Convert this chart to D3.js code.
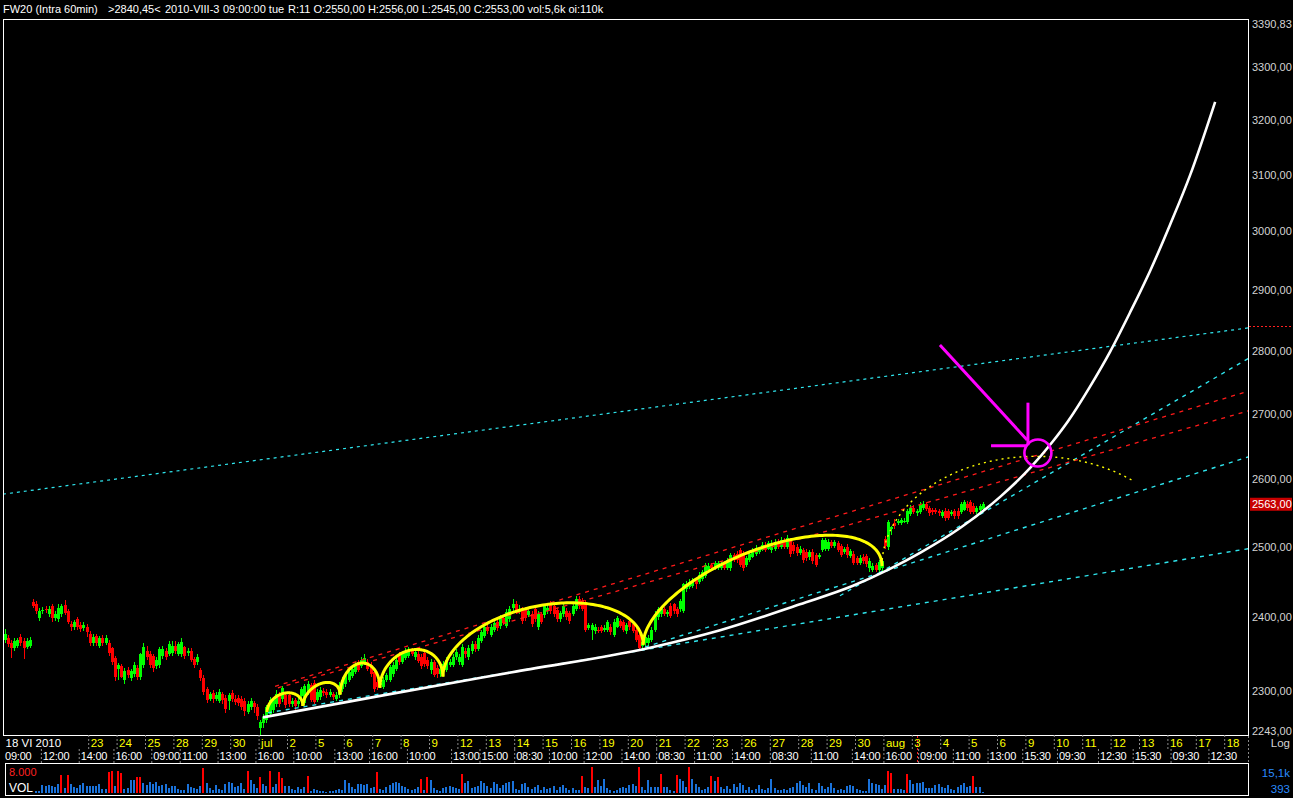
<!DOCTYPE html>
<html><head><meta charset="utf-8">
<script src="https://cdn.jsdelivr.net/npm/d3@7"></script>
<style>
html,body{margin:0;padding:0;background:#000;}
svg{display:block;}
</style></head><body>
<svg id="c" width="1293" height="798"></svg>
<script>
// ---------------- DATA ----------------
const headerTexts = ["FW20 (Intra 60min)", ">2840,45<", "2010-VIII-3", "09:00:00 tue",
  "R:11 O:2550,00 H:2556,00 L:2545,00 C:2553,00 vol:5,6k oi:110k"];

// hourly candles, 9 bars per trading day (18 VI 2010 .. 5 VIII 2010)
const open = [
2370,2372,2366,2358,2362,2374,2368,2360,2362,
2422,2419,2400,2410,2413,2405,2416,2400,2398,
2405,2418,2410,2392,2387,2398,2390,2386,2388,
2378,2365,2375,2362,2372,2366,2366,2358,2345,
2330,2334,2316,2329,2318,2323,2332,2320,2335,
2355,2351,2348,2334,2335,2348,2354,2351,2352,
2362,2351,2350,2360,2352,2354,2344,2339,2329,
2318,2303,2290,2298,2290,2288,2297,2292,2288,
2298,2290,2292,2290,2288,2273,2279,2285,2280,
2252,2258,2262,2271,2275,2283,2296,2290,2295,
2296,2283,2289,2284,2294,2285,2299,2309,2311,
2289,2293,2301,2300,2296,2297,2290,2295,2303,
2310,2316,2321,2326,2340,2334,2338,2340,2336,
2326,2313,2309,2306,2316,2316,2323,2330,2350,
2340,2345,2348,2355,2346,2350,2346,2352,2343,
2329,2340,2332,2323,2329,2329,2336,2336,2346,
2340,2336,2355,2346,2355,2364,2357,2368,2375,
2387,2377,2384,2395,2389,2400,2389,2398,2414,
2419,2408,2412,2412,2404,2406,2412,2388,2405,
2404,2410,2419,2417,2411,2398,2405,2410,2407,
2406,2412,2426,2424,2421,2386,2383,2382,2384,
2387,2384,2384,2388,2377,2388,2396,2394,2382,
2396,2391,2384,2377,2362,2366,2366,2370,2384,
2401,2405,2412,2405,2417,2419,2412,2412,2410,
2440,2443,2445,2453,2450,2455,2459,2468,2475,
2470,2471,2470,2477,2471,2470,2489,2491,2496,
2491,2475,2482,2486,2491,2493,2496,2504,2498,
2496,2498,2508,2501,2511,2501,2511,2504,2501,
2492,2496,2493,2486,2493,2489,2486,2496,2498,
2497,2508,2502,2506,2502,2493,2501,2487,2491,
2484,2477,2486,2487,2470,2468,2475,2468,2470,
2512,2500,2526,2536,2535,2536,2538,2537,2549,
2558,2550,2552,2558,2564,2557,2555,2555,2553,
2546,2553,2553,2548,2553,2553,2552,2555,2564,
2566,2561,2551,2554,2556];
const high = [
2385,2376,2370,2372,2373,2378,2372,2372,2374,
2427,2424,2414,2415,2416,2416,2419,2410,2420,
2420,2425,2412,2396,2397,2401,2394,2394,2391,
2382,2378,2378,2375,2376,2376,2369,2360,2348,
2338,2337,2331,2333,2330,2339,2335,2352,2366,
2362,2355,2351,2346,2360,2362,2358,2368,2368,
2368,2367,2372,2362,2359,2358,2347,2350,2332,
2322,2306,2300,2302,2299,2303,2300,2295,2298,
2302,2295,2296,2294,2292,2287,2292,2288,2284,
2263,2270,2282,2293,2292,2302,2299,2308,2299,
2300,2292,2292,2292,2306,2310,2314,2312,2316,
2303,2306,2305,2303,2303,2300,2300,2313,2320,
2326,2330,2334,2340,2343,2346,2350,2344,2339,
2329,2316,2313,2319,2325,2336,2339,2346,2353,
2354,2358,2360,2358,2357,2354,2350,2355,2347,
2344,2343,2336,2334,2341,2347,2344,2350,2357,
2351,2364,2359,2363,2368,2368,2376,2384,2390,
2391,2391,2397,2399,2404,2403,2412,2416,2426,
2423,2418,2415,2415,2414,2409,2416,2409,2408,
2420,2418,2424,2421,2414,2410,2421,2414,2410,
2421,2430,2430,2428,2425,2393,2393,2391,2387,
2390,2390,2397,2391,2398,2403,2399,2397,2393,
2399,2394,2387,2380,2370,2377,2376,2387,2409,
2415,2416,2415,2411,2421,2421,2415,2427,2449,
2452,2455,2456,2456,2464,2467,2478,2477,2478,
2480,2481,2479,2481,2485,2492,2492,2495,2499,
2494,2488,2494,2499,2503,2500,2508,2507,2509,
2510,2512,2512,2515,2514,2518,2514,2507,2505,
2502,2499,2497,2496,2497,2492,2492,2514,2514,
2512,2511,2511,2509,2505,2500,2505,2497,2494,
2487,2489,2490,2490,2484,2477,2478,2482,2484,
2516,2540,2531,2541,2541,2543,2542,2556,2562,
2562,2556,2567,2568,2567,2560,2558,2558,2556,
2555,2557,2556,2555,2556,2557,2566,2570,2568,
2569,2565,2560,2563,2566];
const low = [
2366,2360,2345,2355,2359,2362,2344,2357,2358,
2414,2406,2396,2405,2407,2401,2394,2396,2395,
2401,2404,2391,2382,2384,2383,2380,2382,2374,
2362,2362,2362,2358,2362,2363,2348,2336,2314,
2316,2318,2310,2318,2314,2320,2316,2316,2332,
2343,2332,2326,2330,2332,2344,2343,2348,2348,
2350,2348,2346,2344,2348,2340,2332,2336,2314,
2296,2285,2287,2285,2287,2285,2284,2272,2275,
2286,2282,2281,2275,2268,2270,2275,2272,2262,
2243,2252,2259,2268,2272,2280,2280,2286,2278,
2279,2280,2276,2280,2291,2282,2296,2286,2283,
2286,2289,2294,2291,2293,2289,2287,2292,2300,
2306,2313,2318,2323,2326,2331,2335,2327,2320,
2300,2302,2305,2303,2313,2313,2320,2327,2336,
2337,2342,2345,2348,2343,2338,2330,2333,2330,
2323,2319,2318,2319,2326,2326,2333,2333,2342,
2336,2333,2345,2343,2351,2353,2354,2365,2372,
2378,2374,2381,2382,2385,2390,2386,2395,2410,
2406,2405,2392,2396,2401,2388,2395,2384,2392,
2400,2406,2406,2401,2394,2394,2402,2397,2392,
2403,2409,2413,2409,2380,2383,2369,2378,2379,
2379,2380,2380,2376,2374,2386,2386,2380,2378,
2384,2379,2367,2354,2356,2362,2362,2367,2381,
2397,2402,2403,2402,2400,2405,2401,2408,2407,
2436,2440,2442,2441,2447,2452,2456,2465,2466,
2467,2468,2467,2467,2468,2466,2479,2478,2472,
2466,2472,2479,2484,2488,2490,2494,2493,2496,
2492,2495,2497,2498,2497,2498,2486,2490,2488,
2489,2478,2480,2482,2476,2472,2483,2493,2495,
2494,2499,2499,2493,2486,2490,2485,2484,2475,
2474,2474,2476,2472,2465,2464,2464,2465,2466,
2497,2496,2518,2527,2532,2533,2535,2534,2546,
2548,2545,2549,2555,2553,2546,2547,2549,2546,
2543,2539,2540,2545,2541,2541,2549,2553,2553,
2549,2548,2549,2552,2555];
const close = [
2378,2364,2358,2368,2369,2366,2358,2368,2370,
2417,2410,2410,2411,2411,2412,2400,2406,2414,
2416,2407,2395,2388,2394,2388,2385,2390,2380,
2366,2374,2366,2372,2366,2372,2352,2340,2320,
2336,2320,2328,2322,2327,2336,2320,2350,2360,
2347,2336,2331,2343,2357,2357,2347,2364,2362,
2355,2364,2367,2348,2355,2343,2336,2346,2318,
2300,2289,2297,2290,2295,2300,2289,2277,2295,
2290,2286,2285,2280,2274,2283,2288,2279,2268,
2260,2267,2279,2289,2289,2297,2284,2305,2282,
2283,2288,2281,2288,2303,2307,2310,2289,2286,
2300,2302,2298,2295,2299,2293,2296,2309,2316,
2323,2326,2330,2336,2329,2342,2345,2330,2323,
2303,2306,2311,2316,2322,2333,2336,2343,2340,
2351,2354,2356,2351,2353,2341,2334,2337,2334,
2340,2322,2323,2330,2337,2343,2340,2346,2353,
2347,2360,2350,2359,2364,2357,2373,2381,2387,
2382,2388,2393,2386,2401,2393,2408,2412,2420,
2410,2413,2396,2400,2410,2392,2399,2405,2395,
2416,2414,2410,2405,2398,2407,2417,2401,2396,
2417,2426,2417,2413,2384,2390,2390,2387,2382,
2382,2386,2394,2380,2395,2400,2389,2384,2390,
2387,2382,2370,2359,2367,2374,2373,2384,2406,
2412,2412,2406,2408,2403,2409,2405,2423,2447,
2447,2451,2452,2447,2461,2464,2475,2473,2470,
2477,2478,2476,2471,2482,2489,2482,2482,2475,
2470,2485,2491,2496,2499,2497,2504,2496,2506,
2506,2508,2501,2511,2500,2514,2490,2494,2492,
2498,2482,2484,2493,2480,2475,2489,2511,2510,
2508,2502,2508,2496,2489,2497,2489,2494,2478,
2477,2485,2480,2476,2480,2473,2468,2479,2480,
2502,2537,2529,2531,2538,2540,2539,2553,2558,
2552,2553,2562,2564,2556,2550,2551,2552,2550,
2551,2542,2543,2552,2545,2545,2563,2566,2557,
2552,2551,2557,2560,2563];
const volume = [
3200,2100,1800,1500,2400,1900,1600,2200,2800,
1200,1100,1000,4600,4100,4500,3900,3400,5200,
10450,2900,10400,5100,3600,3000,4700,5600,4200,
3800,4300,4200,5300,2400,2500,12200,12800,3900,
12700,11600,2100,3000,7400,7600,9300,9200,5800,
4800,6300,5400,6200,4100,4700,5000,3000,4200,
3800,2400,1800,1900,5500,3600,3100,2600,4300,
14500,6000,3000,1900,4400,2600,1500,5100,6300,
5600,3200,3900,5800,2600,12800,7300,5200,3100,
9300,5400,4300,12800,3500,5000,12200,8700,3900,
4300,2400,1800,3600,2600,3200,9900,1400,2500,
1900,1300,1100,800,900,1200,1600,2200,1900,
7600,5700,3500,2400,5100,5300,4800,5200,3000,
3400,12200,2500,1900,3600,4800,6000,6500,5800,
4100,3500,2400,1800,2400,3600,8300,2000,9300,
7300,2900,1700,1400,3000,3600,4200,3500,2900,
2500,11000,6000,6800,3000,3600,4100,7000,5900,
4200,3000,6400,5300,3000,4600,5800,6500,7100,
2400,1800,5400,5900,3700,2400,3500,4800,2000,
3600,2400,3000,4200,1800,3500,4600,3000,2000,
3000,1900,2000,9900,3200,2800,15000,3600,7600,
4000,7900,3000,1800,1200,1600,2800,3500,3000,
4600,5100,3800,15100,3400,1700,7800,3500,3600,
3500,11000,3500,3400,1800,1200,10500,7900,6800,
3500,15000,7900,5300,3500,1800,2300,3600,9900,
6900,9300,3500,2300,4000,2400,5300,3500,5800,
4700,1800,3500,1900,2300,4600,2400,1700,3000,
7900,2900,1800,1800,2400,1900,3000,3500,5800,
6800,4600,3500,5800,2400,1800,5900,4200,2400,
3500,5900,3000,1800,2300,1900,4100,4800,4200,
2300,1800,1200,1200,7900,5800,5300,4700,2400,
4600,12800,11600,2300,2400,2300,1800,11000,7500,
5300,5600,5900,6300,3000,2900,3000,4700,5300,
3600,3000,4700,2400,1800,3500,4600,5800,3500,
4100,9900,3500,3600,600];
const volThreshold = 8000;
const volMin = 393, volMax = 15100;

// price axis
const priceMin = 2243, priceMax = 3390.83;
const priceTicks = [3390.83,3300,3200,3100,3000,2900,2800,2700,2600,2500,2400,2300,2243];
const lastPrice = 2563;
const markerPrice = 2840.45;

// date axis (x in trading days from 18 VI 2010; 9 bars per day)
const dayTickDays = [0,3,4,5,6,7,8,9,10,11,12,13,14,15,16,17,18,19,20,21,22,23,24,25,26,27,28,29,30,31,32,33,34,35,36,37,38,39,40,41,42,43];
const dayTickLabels = ["18 VI 2010","23","24","25","28","29","30","jul","2","5","6","7","8","9","12","13","14","15","16","19","20","21","22","23","26","27","28","29","30","aug","3","4","5","6","9","10","11","12","13","16","17","18"];
const timeTickBars = [0,12,24,35,47,56,68,80,92,105,116,128,142,151,162,173,184,196,207,219,231,243,256,269,279,290,301,312,323,334,347,358,370,382];
const timeTickLabels = ["09:00","12:00","14:00","16:00","09:00","11:00","13:00","16:00","10:00","13:00","16:00","10:00","13:00","15:00","08:30","10:00","12:00","14:00","08:30","11:00","14:00","08:30","11:00","14:00","16:00","09:00","11:00","13:00","15:30","09:30","12:30","15:30","09:30","12:30"];
const cursorBar = 289;

// white curve (day, price)
const curveDay =   [9.15,13.38,18.10,22.78,25.25,28.06,29.93,31.23,32.29,33.70,35.11,36.16,36.97,37.50,38.27,38.98,39.68,40.39,41.09,41.80,42.68];
const curvePrice = [2266,2295,2327,2359,2383,2419,2445,2469,2492,2528,2574,2617,2658,2689,2743,2799,2863,2933,3012,3100,3234];

// straight trend lines (day, price) -> (day, price)
const cyanFromDay =   [0,    9.33, 22.61, 29.47];
const cyanFromPrice = [2578, 2272, 2360,  2431];
const cyanToDay =     [43.84,43.84,43.84, 43.84];
const cyanToPrice =   [2838, 2498, 2634,  2788];
const redFromDay =   [9.58, 9.68];
const redFromPrice = [2307, 2305];
const redToDay =     [43.84,43.84];
const redToPrice =   [2736, 2705];

// cycle arcs
const arcFromDay =   [9.30, 10.56, 11.87, 13.27, 15.49, 22.54];
const arcFromPrice = [2273, 2281,  2296,  2305,  2320,  2363];
const arcToDay =     [10.56,11.87, 13.27, 15.49, 22.54, 30.95];
const arcToPrice =   [2281, 2296,  2305,  2320,  2363,  2473];
const arcTopPrice =  [2298, 2311,  2338,  2356,  2418,  2500];
const projArc = [30.95, 2473, 41.80, 2473, 2635]; // fromDay, fromPrice, toDay, toPrice, topPrice
const projArcDrawnTo = 39.86;

// magenta annotation (day, price)
const ringCenter = [36.44, 2640];
const arrowFromDay =   [32.99, 36.09, 34.79];
const arrowFromPrice = [2810,  2718,  2651];
const arrowToDay =     [36.06, 36.09, 36.06];
const arrowToPrice =   [2660,  2652,  2651];

// ---------------- DRAWING ----------------
const W = 1293, H = 798;
const FONT = '"Liberation Sans", Arial, sans-serif';
const P = {l:3, r:1248, t:19, b:735};
const DAYW = 28.4;
const svg = d3.select('#c');
svg.append('rect').attr('width', W).attr('height', H).attr('fill', '#000');

const xDay = d3.scaleLinear().domain([0, 44]).range([P.l, P.l + 44 * DAYW]);
const xBar = d3.scaleLinear().domain([0, 44 * 9]).range([P.l, P.l + 44 * DAYW]);
const y = d3.scaleLog().domain([priceMin, priceMax]).range([P.b, 20]);
const yv = d3.scaleLinear().domain([0, volMax]).range([793, 767]);

svg.append('clipPath').attr('id', 'clip').append('rect')
  .attr('x', P.l).attr('y', P.t).attr('width', P.r - P.l).attr('height', P.b - P.t);
const main = svg.append('g').attr('clip-path', 'url(#clip)');

// header
const headerX = [3, 108, 165, 223, 288];
svg.append('g').selectAll('text').data(headerTexts).join('text')
  .attr('x', (d, i) => headerX[i]).attr('y', 13)
  .attr('fill', '#fff').attr('font-family', FONT).attr('font-size', 11).text(d => d);

// candles
const bars = d3.range(open.length);
const cx = i => Math.round(xBar(i + 0.5));
const cg = main.append('g').attr('shape-rendering', 'crispEdges');
cg.selectAll('rect.w').data(bars).join('rect').attr('class', 'w')
  .attr('x', i => cx(i)).attr('width', 1)
  .attr('y', i => Math.round(y(high[i]))).attr('height', i => Math.max(1, Math.round(y(low[i])) - Math.round(y(high[i]))))
  .attr('fill', i => close[i] >= open[i] ? '#00ff00' : '#ff0000');
cg.selectAll('rect.b').data(bars).join('rect').attr('class', 'b')
  .attr('x', i => cx(i) - 1).attr('width', 3)
  .attr('y', i => Math.round(y(Math.max(open[i], close[i]))))
  .attr('height', i => Math.max(1, Math.round(y(Math.min(open[i], close[i]))) - Math.round(y(Math.max(open[i], close[i])))))
  .attr('fill', i => close[i] >= open[i] ? '#00ff00' : '#ff0000');

// trend lines
function seg(g, fd, fp, td, tp, color, dash, w) {
  g.append('g').selectAll('line').data(d3.range(fd.length)).join('line')
    .attr('x1', i => xDay(fd[i])).attr('y1', i => y(fp[i]))
    .attr('x2', i => xDay(td[i])).attr('y2', i => y(tp[i]))
    .attr('stroke', color).attr('stroke-width', w).attr('stroke-dasharray', dash);
}
seg(main, cyanFromDay.slice(0,1), cyanFromPrice.slice(0,1), cyanToDay.slice(0,1), cyanToPrice.slice(0,1), '#2fe6ee', '3,4', 1.2);
seg(main, cyanFromDay.slice(1), cyanFromPrice.slice(1), cyanToDay.slice(1), cyanToPrice.slice(1), '#2fe6ee', '4,5', 1.4);
seg(main, redFromDay, redFromPrice, redToDay, redToPrice, '#ff1a1a', '4,5', 1.3);

// arcs
function arcPts(d0, p0, d1, p1, top, stopDay) {
  const x0 = xDay(d0), x1 = xDay(d1), y0 = y(p0), y1 = y(p1);
  const h = (y0 + y1) / 2 - y(top);
  const xs = stopDay === undefined ? Infinity : xDay(stopDay);
  return d3.range(0, 121).map(k => {
    const t = Math.PI * k / 120, u = (1 - Math.cos(t)) / 2;
    return [x0 + (x1 - x0) * u, y0 + (y1 - y0) * u - h * Math.sin(t)];
  }).filter(p => p[0] <= xs);
}
const ln = d3.line();
main.append('g').selectAll('path').data(d3.range(arcFromDay.length)).join('path')
  .attr('d', i => ln(arcPts(arcFromDay[i], arcFromPrice[i], arcToDay[i], arcToPrice[i], arcTopPrice[i])))
  .attr('fill', 'none').attr('stroke', '#ffff00').attr('stroke-width', 3);
main.append('path').attr('d', ln(arcPts(...projArc, projArcDrawnTo)))
  .attr('fill', 'none').attr('stroke', '#ffff00').attr('stroke-width', 1.4).attr('stroke-dasharray', '2,4');

// white curve
main.append('path')
  .attr('d', d3.line().curve(d3.curveMonotoneX)(curveDay.map((d, i) => [xDay(d), y(curvePrice[i])])))
  .attr('fill', 'none').attr('stroke', '#ffffff').attr('stroke-width', 2.6);

// magenta
main.append('circle').attr('cx', xDay(ringCenter[0])).attr('cy', y(ringCenter[1])).attr('r', 13.5)
  .attr('fill', 'none').attr('stroke', '#ff00ff').attr('stroke-width', 2.6);
seg(main, arrowFromDay, arrowFromPrice, arrowToDay, arrowToPrice, '#ff00ff', null, 3);

// panel border
svg.append('rect').attr('x', P.l + 0.5).attr('y', P.t + 0.5).attr('width', P.r - P.l).attr('height', P.b - P.t)
  .attr('fill', 'none').attr('stroke', '#fff').attr('stroke-width', 1);

// right price axis
const fmt = v => d3.format('.2f')(v).replace('.', ',');
const ay = svg.append('g').attr('transform', `translate(${P.r},0)`)
  .call(d3.axisRight(y).tickValues(priceTicks).tickFormat(fmt).tickSize(0).tickPadding(4));
ay.select('.domain').remove();
ay.attr('font-family', FONT).attr('font-size', 11);
ay.selectAll('.tick').attr('transform', d => `translate(0,${Math.max(24, Math.min(731, y(d)))})`);
ay.selectAll('text').attr('fill', '#d4d4d4');

// marker line at 2840,45
svg.append('line').attr('x1', P.r + 1).attr('x2', W).attr('y1', Math.round(y(markerPrice)) + 0.5).attr('y2', Math.round(y(markerPrice)) + 0.5)
  .attr('stroke', '#ff2020').attr('stroke-dasharray', '2,2');
// last price box
const ly = y(lastPrice);
svg.append('rect').attr('x', 1250).attr('y', ly - 6.5).attr('width', 42).attr('height', 13).attr('fill', '#c80000');
svg.append('text').attr('x', 1252).attr('y', ly + 4).attr('fill', '#fff').attr('font-family', FONT).attr('font-size', 11).text(fmt(lastPrice));

// date axis rows
const ax1 = svg.append('g').attr('transform', `translate(0,${P.b})`)
  .call(d3.axisBottom(xDay).tickValues(dayTickDays).tickFormat((d, i) => dayTickLabels[i]).tickSize(14));
ax1.select('.domain').remove();
ax1.attr('font-family', FONT).attr('font-size', 11.5);
ax1.selectAll('line').attr('stroke', '#8a8a8a').attr('stroke-dasharray', '2,2').attr('opacity', d => d === 0 ? 0 : 1);
ax1.selectAll('text').attr('text-anchor', 'start').attr('x', 2).attr('y', 12).attr('dy', null)
  .attr('fill', d => d === 0 ? '#fff' : '#ffff00');

const ax2 = svg.append('g').attr('transform', `translate(0,${P.b + 14})`)
  .call(d3.axisBottom(xBar).tickValues(timeTickBars).tickFormat((d, i) => timeTickLabels[i]).tickSize(14));
ax2.select('.domain').remove();
ax2.attr('font-family', FONT).attr('font-size', 11).attr('letter-spacing', -0.2);
ax2.selectAll('line').attr('stroke', '#8a8a8a').attr('stroke-dasharray', '2,2').attr('opacity', d => d === 0 ? 0 : 1);
ax2.selectAll('text').attr('text-anchor', 'start').attr('x', 1.5).attr('y', 11).attr('dy', null).attr('fill', '#fff');

// cursor + right separator in axis area
svg.append('line').attr('x1', Math.round(xBar(cursorBar + 0.5)) + 0.5).attr('x2', Math.round(xBar(cursorBar + 0.5)) + 0.5)
  .attr('y1', P.b + 1).attr('y2', 763).attr('stroke', '#ff2020').attr('stroke-dasharray', '2,2');
svg.append('line').attr('x1', P.r + 0.5).attr('x2', P.r + 0.5).attr('y1', P.b + 1).attr('y2', 763)
  .attr('stroke', '#8a8a8a').attr('stroke-dasharray', '2,2');
svg.append('text').attr('x', 1290).attr('y', 747).attr('text-anchor', 'end').attr('fill', '#d4d4d4')
  .attr('font-family', FONT).attr('font-size', 11.5).text('Log');

// volume panel
const vg = svg.append('g').attr('shape-rendering', 'crispEdges');
vg.selectAll('rect').data(bars).join('rect')
  .attr('x', i => cx(i) - 1).attr('width', 2)
  .attr('y', i => Math.round(yv(volume[i]))).attr('height', i => 793 - Math.round(yv(volume[i])))
  .attr('fill', i => volume[i] > volThreshold ? '#ff0000' : '#1a72da');
svg.append('rect').attr('x', 4).attr('y', 764).attr('width', 30).attr('height', 31).attr('fill', '#000');
svg.append('rect').attr('x', 5.5).attr('y', 763.5).attr('width', P.r - 5).attr('height', 32)
  .attr('fill', 'none').attr('stroke', '#fff');
svg.append('text').attr('x', 9).attr('y', 776).attr('fill', '#ff2020').attr('font-family', FONT).attr('font-size', 11)
  .text(d3.format(',')(volThreshold).replace(',', '.'));
svg.append('text').attr('x', 9).attr('y', 792).attr('fill', '#fff').attr('font-family', FONT).attr('font-size', 12).text('VOL');
svg.append('text').attr('x', 1290).attr('y', 777).attr('text-anchor', 'end').attr('fill', '#2a8cff')
  .attr('font-family', FONT).attr('font-size', 11.5).text(d3.format('.1f')(volMax / 1000).replace('.', ',') + 'k');
svg.append('text').attr('x', 1290).attr('y', 793).attr('text-anchor', 'end').attr('fill', '#2a8cff')
  .attr('font-family', FONT).attr('font-size', 11.5).text(volMin);
</script></body></html>
